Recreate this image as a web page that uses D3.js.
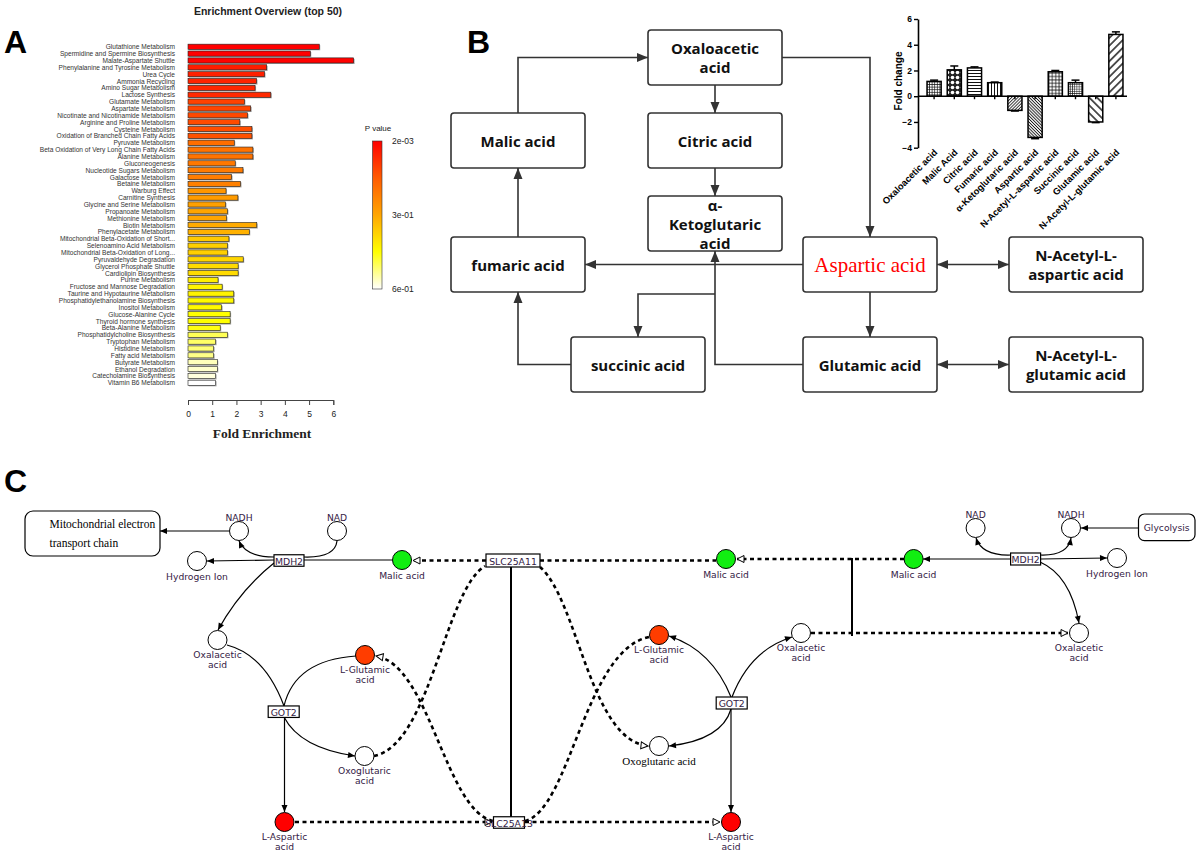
<!DOCTYPE html>
<html>
<head>
<meta charset="utf-8">
<script src="https://cdn.jsdelivr.net/npm/d3@7"></script>
<style>
body { margin: 0; background: #fff; }
svg { display: block; }
</style>
</head>
<body>
<svg id="fig" width="1200" height="855"></svg>
<script>
// ---- panel A data: enrichment overview
const pathways = [
  'Glutathione Metabolism', 'Spermidine and Spermine Biosynthesis', 'Malate-Aspartate Shuttle',
  'Phenylalanine and Tyrosine Metabolism', 'Urea Cycle', 'Ammonia Recycling', 'Amino Sugar Metabolism',
  'Lactose Synthesis', 'Glutamate Metabolism', 'Aspartate Metabolism', 'Nicotinate and Nicotinamide Metabolism',
  'Arginine and Proline Metabolism', 'Cysteine Metabolism', 'Oxidation of Branched Chain Fatty Acids',
  'Pyruvate Metabolism', 'Beta Oxidation of Very Long Chain Fatty Acids', 'Alanine Metabolism',
  'Gluconeogenesis', 'Nucleotide Sugars Metabolism', 'Galactose Metabolism', 'Betaine Metabolism',
  'Warburg Effect', 'Carnitine Synthesis', 'Glycine and Serine Metabolism', 'Propanoate Metabolism',
  'Methionine Metabolism', 'Biotin Metabolism', 'Phenylacetate Metabolism',
  'Mitochondrial Beta-Oxidation of Short...', 'Selenoamino Acid Metabolism',
  'Mitochondrial Beta-Oxidation of Long...', 'Pyruvaldehyde Degradation', 'Glycerol Phosphate Shuttle',
  'Cardiolipin Biosynthesis', 'Purine Metabolism', 'Fructose and Mannose Degradation',
  'Taurine and Hypotaurine Metabolism', 'Phosphatidylethanolamine Biosynthesis', 'Inositol Metabolism',
  'Glucose-Alanine Cycle', 'Thyroid hormone synthesis', 'Beta-Alanine Metabolism',
  'Phosphatidylcholine Biosynthesis', 'Tryptophan Metabolism', 'Histidine Metabolism',
  'Fatty acid Metabolism', 'Butyrate Metabolism', 'Ethanol Degradation', 'Catecholamine Biosynthesis',
  'Vitamin B6 Metabolism'
];
const foldEnrichment = [
  5.42, 5.05, 6.84, 3.25, 3.16, 2.83, 2.77, 3.42, 2.33, 2.59,
  2.46, 2.14, 2.64, 2.64, 1.91, 2.68, 2.68, 1.95, 2.27, 1.80,
  2.17, 1.57, 2.06, 1.55, 1.63, 1.59, 2.84, 2.53, 1.69, 1.63,
  1.63, 2.28, 2.07, 2.07, 1.24, 1.41, 1.89, 1.89, 1.39, 1.74,
  1.74, 1.33, 1.63, 1.14, 1.06, 1.06, 1.21, 1.21, 1.14, 1.14
];
const pValues = [
  0.002, 0.004, 0.005, 0.05, 0.055, 0.06, 0.065, 0.07, 0.11, 0.115,
  0.12, 0.125, 0.13, 0.135, 0.19, 0.20, 0.20, 0.21, 0.215, 0.22,
  0.225, 0.27, 0.28, 0.29, 0.30, 0.30, 0.31, 0.32, 0.36, 0.37,
  0.37, 0.38, 0.39, 0.39, 0.42, 0.43, 0.43, 0.44, 0.44, 0.45,
  0.45, 0.46, 0.50, 0.51, 0.52, 0.53, 0.56, 0.57, 0.58, 0.60
];
const enrichTicks = [0, 1, 2, 3, 4, 5, 6];
const pTicks = [0.002, 0.3, 0.6];
const pTickLabels = ['2e-03', '3e-01', '6e-01'];

// ---- panel B data: fold change inset
const fcNames = ['Oxaloacetic acid', 'Malic Acid', 'Citric acid', 'Fumaric acid', 'α-Ketoglutaric acid',
  'Aspartic acid', 'N-Acetyl-L-aspartic acid', 'Succinic acid', 'Glutamic acid', 'N-Acetyl-L-glutamic acid'];
const foldChange = [1.15, 2.05, 2.2, 1.05, -1.1, -3.2, 1.9, 1.05, -2.0, 4.8];
const foldChangeErr = [0.1, 0.3, 0.08, 0.05, 0.05, 0.1, 0.1, 0.2, 0.05, 0.2];
const fcTicks = [-4, -2, 0, 2, 4, 6];

// ---- panel B flow chart labels
const flowLabels = {
  oaa: ['Oxaloacetic', 'acid'], mal: ['Malic acid'], cit: ['Citric acid'],
  akg: ['α-', 'Ketoglutaric', 'acid'], fum: ['fumaric acid'], asp: ['Aspartic acid'],
  naa: ['N-Acetyl-L-', 'aspartic acid'], suc: ['succinic acid'], glu: ['Glutamic acid'],
  nag: ['N-Acetyl-L-', 'glutamic acid']
};

const svg = d3.select('#fig');
const defs = svg.append('defs');

function marker(id, w, h, fill, stroke) {
  defs.append('marker')
    .attr('id', id)
    .attr('viewBox', `-1 -1 ${w + 2} ${h + 2}`)
    .attr('refX', w).attr('refY', h / 2)
    .attr('markerWidth', w + 2).attr('markerHeight', h + 2)
    .attr('markerUnits', 'userSpaceOnUse')
    .attr('orient', 'auto-start-reverse')
    .append('path')
    .attr('d', `M0,0L${w},${h / 2}L0,${h}Z`)
    .attr('fill', fill)
    .attr('stroke', stroke || 'none')
    .attr('stroke-width', 1);
}
marker('arrB', 11, 9, '#333');
marker('arrC', 7, 6, '#000');
marker('openC', 7, 7, '#fff', '#000');

// panel letters
const letters = svg.append('g')
  .attr('font-family', "'Liberation Sans', Arial, sans-serif")
  .attr('font-weight', 'bold').attr('font-size', 32).attr('fill', '#000');
letters.append('text').attr('x', 4).attr('y', 53).text('A');
letters.append('text').attr('x', 467).attr('y', 53).text('B');
letters.append('text').attr('x', 4).attr('y', 492).text('C');

// ================= PANEL A =================
const gA = svg.append('g').attr('font-family', "'Liberation Sans', Arial, sans-serif");
gA.append('text')
  .attr('x', 268).attr('y', 14.5).attr('text-anchor', 'middle')
  .attr('font-size', 10.5).attr('font-weight', 'bold').attr('fill', '#222')
  .text('Enrichment Overview (top 50)');

const xA = d3.scaleLinear().domain([0, 6]).range([188, 333.3]);
const yA = d3.scaleBand().domain(pathways).range([43.3, 386.2]).paddingInner(0.25).paddingOuter(0.125);
const colorP = d3.scaleLinear()
  .domain([0.002, 0.15, 0.3, 0.45, 0.6])
  .range(['#ff0000', '#ff5a00', '#ffa500', '#ffff00', '#ffffff']);

const rows = pathways.map((name, i) => ({ name, fe: foldEnrichment[i], p: pValues[i] }));

gA.selectAll('rect.shadow').data(rows).join('rect')
  .attr('class', 'shadow')
  .attr('x', xA(0) + 1).attr('y', d => yA(d.name) + 1)
  .attr('width', d => xA(d.fe) - xA(0)).attr('height', yA.bandwidth())
  .attr('fill', '#aaa');

gA.selectAll('rect.bar').data(rows).join('rect')
  .attr('class', 'bar')
  .attr('x', xA(0)).attr('y', d => yA(d.name))
  .attr('width', d => xA(d.fe) - xA(0)).attr('height', yA.bandwidth())
  .attr('fill', d => colorP(d.p))
  .attr('stroke', '#222').attr('stroke-width', 0.6);

gA.selectAll('text.lbl').data(rows).join('text')
  .attr('class', 'lbl')
  .attr('x', 175).attr('y', d => yA(d.name) + yA.bandwidth() / 2)
  .attr('text-anchor', 'end').attr('dominant-baseline', 'central')
  .attr('font-size', 6.6).attr('fill', '#333')
  .text(d => d.name);

const axA = gA.append('g').attr('transform', 'translate(0,400)')
  .call(d3.axisBottom(xA).tickValues(enrichTicks).tickSize(5).tickPadding(6).tickFormat(d3.format('d')));
axA.select('.domain').attr('stroke', '#444');
axA.selectAll('.tick line').attr('stroke', '#444');
axA.selectAll('.tick text').attr('font-size', 8.5).attr('fill', '#222')
  .attr('font-family', "'Liberation Sans', Arial, sans-serif");

gA.append('text')
  .attr('x', 262).attr('y', 438).attr('text-anchor', 'middle')
  .attr('font-family', "'Liberation Serif', 'Times New Roman', serif")
  .attr('font-size', 13.5).attr('font-weight', 'bold').attr('fill', '#222')
  .text('Fold Enrichment');

// colour bar legend
const yLeg = d3.scaleLinear().domain([0.002, 0.6]).range([141, 289]);
const grad = defs.append('linearGradient').attr('id', 'pgrad')
  .attr('x1', 0).attr('y1', 0).attr('x2', 0).attr('y2', 1);
colorP.domain().forEach(v => {
  grad.append('stop')
    .attr('offset', (yLeg(v) - yLeg(0.002)) / (yLeg(0.6) - yLeg(0.002)))
    .attr('stop-color', colorP(v));
});
gA.append('rect')
  .attr('x', 372.5).attr('y', yLeg(0.002)).attr('width', 9.5).attr('height', yLeg(0.6) - yLeg(0.002))
  .attr('fill', 'url(#pgrad)').attr('stroke', '#333').attr('stroke-width', 0.6);
gA.append('text').attr('x', 378).attr('y', 131).attr('text-anchor', 'middle')
  .attr('font-size', 8).attr('fill', '#222').text('P value');
gA.selectAll('text.ptick').data(pTicks).join('text')
  .attr('class', 'ptick')
  .attr('x', 392).attr('y', d => yLeg(d)).attr('dominant-baseline', 'central')
  .attr('font-size', 8.5).attr('fill', '#222')
  .text((d, i) => pTickLabels[i]);

// ================= PANEL B : flow chart =================
const BW = 134, BH = 55;
const boxB = {
  oaa: { x: 648, y: 30 }, mal: { x: 451, y: 113 }, cit: { x: 648, y: 113 }, akg: { x: 648, y: 196 },
  fum: { x: 451, y: 237 }, asp: { x: 803, y: 237 }, naa: { x: 1009, y: 237 },
  suc: { x: 571, y: 337 }, glu: { x: 803, y: 337 }, nag: { x: 1009, y: 337 }
};
const cx = b => boxB[b].x + BW / 2, cy = b => boxB[b].y + BH / 2;
const lf = b => boxB[b].x, rt = b => boxB[b].x + BW;
const tp = b => boxB[b].y, bt = b => boxB[b].y + BH;
const branchY = 294;

const gB = svg.append('g');
const flowEdges = [
  [[cx('mal'), tp('mal')], [cx('mal'), cy('oaa')], [lf('oaa'), cy('oaa')]],
  [[cx('oaa'), bt('oaa')], [cx('oaa'), tp('cit')]],
  [[cx('cit'), bt('cit')], [cx('cit'), tp('akg')]],
  [[rt('oaa'), cy('oaa')], [cx('asp'), cy('oaa')], [cx('asp'), tp('asp')]],
  [[lf('asp'), cy('asp')], [rt('fum'), cy('asp')]],
  [[lf('glu'), cy('glu')], [cx('akg'), cy('glu')], [cx('akg'), bt('akg')]],
  [[cx('akg'), branchY], [cx('suc'), branchY], [cx('suc'), tp('suc')]],
  [[lf('suc'), cy('suc')], [cx('fum'), cy('suc')], [cx('fum'), bt('fum')]],
  [[cx('fum'), tp('fum')], [cx('mal'), bt('mal')]],
  [[cx('asp'), bt('asp')], [cx('glu'), tp('glu')]]
];
const flowDouble = [
  [[rt('asp'), cy('asp')], [lf('naa'), cy('naa')]],
  [[rt('glu'), cy('glu')], [lf('nag'), cy('nag')]]
];
const line = d3.line();
gB.selectAll('path.fe').data(flowEdges).join('path')
  .attr('class', 'fe').attr('d', line)
  .attr('fill', 'none').attr('stroke', '#333').attr('stroke-width', 1.6)
  .attr('marker-end', 'url(#arrB)');
gB.selectAll('path.fd').data(flowDouble).join('path')
  .attr('class', 'fd').attr('d', line)
  .attr('fill', 'none').attr('stroke', '#333').attr('stroke-width', 1.6)
  .attr('marker-end', 'url(#arrB)').attr('marker-start', 'url(#arrB)');

const keysB = Object.keys(boxB);
gB.selectAll('rect.box').data(keysB).join('rect')
  .attr('class', 'box')
  .attr('x', d => boxB[d].x).attr('y', d => boxB[d].y)
  .attr('width', BW).attr('height', BH).attr('rx', 3)
  .attr('fill', '#fff').attr('stroke', '#333').attr('stroke-width', 1.6);

keysB.forEach(k => {
  const lines = flowLabels[k];
  const isAsp = k === 'asp';
  const lh = 19;
  const t = gB.append('text')
    .attr('text-anchor', 'middle')
    .attr('font-family', isAsp ? "'Liberation Serif', 'Times New Roman', serif" : "'Open Sans', 'Noto Sans', sans-serif")
    .attr('font-weight', isAsp ? 'normal' : 'bold')
    .attr('font-size', isAsp ? 21 : 15)
    .attr('fill', isAsp ? '#ff0000' : '#111');
  lines.forEach((s, i) => {
    t.append('tspan')
      .attr('x', cx(k))
      .attr('y', cy(k) + (i - (lines.length - 1) / 2) * lh)
      .attr('dominant-baseline', 'central')
      .text(s);
  });
});

// ================= PANEL B : fold change inset =================
const gF = svg.append('g').attr('font-family', "'Liberation Sans', Arial, sans-serif");
const xF = d3.scaleBand().domain(fcNames).range([924, 1126]).paddingInner(0.3).paddingOuter(0.15);
const yF = d3.scaleLinear().domain([-4, 6]).range([147.7, 19]);

function pattern(id, w, h, bg, draw, rot) {
  const p = defs.append('pattern').attr('id', id)
    .attr('patternUnits', 'userSpaceOnUse').attr('width', w).attr('height', h);
  if (rot) p.attr('patternTransform', `rotate(${rot})`);
  p.append('rect').attr('width', w).attr('height', h).attr('fill', bg);
  draw(p);
}
const hline = (p, w, y, sw) => p.append('line').attr('x1', 0).attr('x2', w).attr('y1', y).attr('y2', y).attr('stroke', '#111').attr('stroke-width', sw);
const vline = (p, h, x, sw) => p.append('line').attr('x1', x).attr('x2', x).attr('y1', 0).attr('y2', h).attr('stroke', '#111').attr('stroke-width', sw);
pattern('fp0', 2.6, 2.6, '#fff', p => { hline(p, 2.6, 1.3, 0.7); vline(p, 2.6, 1.3, 0.7); });
pattern('fp1', 5, 5, '#222', p => p.append('circle').attr('cx', 2.5).attr('cy', 2.5).attr('r', 1.8).attr('fill', '#fff'));
pattern('fp2', 4, 3, '#fff', p => hline(p, 4, 1.5, 1));
pattern('fp3', 3, 4, '#fff', p => vline(p, 4, 1.5, 1));
pattern('fp4', 2.2, 4, '#fff', p => vline(p, 4, 1.1, 0.8), 45);
pattern('fp5', 2.2, 4, '#fff', p => vline(p, 4, 1.1, 0.9), -45);
pattern('fp6', 3.4, 3.4, '#fff', p => { hline(p, 3.4, 1.7, 0.8); vline(p, 3.4, 1.7, 0.8); });
pattern('fp7', 2.2, 2.2, '#fff', p => { hline(p, 2.2, 1.1, 0.55); vline(p, 2.2, 1.1, 0.55); });
pattern('fp8', 5.5, 4, '#fff', p => vline(p, 4, 2.75, 1.4), -45);
pattern('fp9', 5.5, 4, '#fff', p => vline(p, 4, 2.75, 1.4), 45);

const fcRows = fcNames.map((name, i) => ({ name, v: foldChange[i], e: foldChangeErr[i], pat: `url(#fp${i})` }));

// error bars
const errG = gF.selectAll('g.err').data(fcRows).join('g').attr('class', 'err');
errG.append('line')
  .attr('x1', d => xF(d.name) + xF.bandwidth() / 2).attr('x2', d => xF(d.name) + xF.bandwidth() / 2)
  .attr('y1', d => yF(d.v)).attr('y2', d => yF(d.v + Math.sign(d.v) * d.e))
  .attr('stroke', '#000').attr('stroke-width', 1.5);
errG.append('line')
  .attr('x1', d => xF(d.name) + xF.bandwidth() / 2 - 4).attr('x2', d => xF(d.name) + xF.bandwidth() / 2 + 4)
  .attr('y1', d => yF(d.v + Math.sign(d.v) * d.e)).attr('y2', d => yF(d.v + Math.sign(d.v) * d.e))
  .attr('stroke', '#000').attr('stroke-width', 1.5);

gF.selectAll('rect.fc').data(fcRows).join('rect')
  .attr('class', 'fc')
  .attr('x', d => xF(d.name)).attr('width', xF.bandwidth())
  .attr('y', d => yF(Math.max(0, d.v)))
  .attr('height', d => Math.abs(yF(d.v) - yF(0)))
  .attr('fill', d => d.pat).attr('stroke', '#000').attr('stroke-width', 1.5);

const axFY = gF.append('g').attr('transform', 'translate(918,0)')
  .call(d3.axisLeft(yF).tickValues(fcTicks).tickSize(4).tickSizeOuter(0).tickPadding(2));
const axFX = gF.append('g').attr('transform', `translate(0,${yF(0)})`)
  .call(d3.axisBottom(xF).tickSize(3).tickSizeOuter(0).tickFormat(''));
axFX.select('.domain').attr('d', `M918,0H1127`);
[axFY, axFX].forEach(a => {
  a.select('.domain').attr('stroke', '#000').attr('stroke-width', 1.6);
  a.selectAll('.tick line').attr('stroke', '#000').attr('stroke-width', 1.4);
});
axFY.selectAll('.tick text').attr('font-size', 8.5).attr('font-weight', 'bold').attr('fill', '#000')
  .attr('font-family', "'Liberation Sans', Arial, sans-serif");

gF.append('text')
  .attr('transform', 'translate(902,81) rotate(-90)').attr('text-anchor', 'middle')
  .attr('font-size', 10).attr('font-weight', 'bold').text('Fold change');

gF.selectAll('text.fcl').data(fcNames).join('text')
  .attr('class', 'fcl')
  .attr('transform', d => `translate(${xF(d) + xF.bandwidth() / 2 + 4},153) rotate(-45)`)
  .attr('text-anchor', 'end')
  .attr('font-size', 9.3).attr('font-weight', 'bold').attr('fill', '#000')
  .text(d => d);

// ================= PANEL C : malate-aspartate shuttle =================
const gC = svg.append('g').attr('font-family', "'DejaVu Sans', Verdana, sans-serif");
const labelColor = '#352145';
const GREEN = '#11ee11', ORANGE = '#ff3d00', RED = '#ff0000';

const cNodes = [
  { x: 239, y: 531, fill: '#fff', label: ['NADH'], above: true },
  { x: 337, y: 531, fill: '#fff', label: ['NAD'], above: true },
  { x: 197, y: 561, fill: '#fff', label: ['Hydrogen Ion'] },
  { x: 402, y: 560, fill: GREEN, label: ['Malic acid'] },
  { x: 217.5, y: 640, fill: '#fff', label: ['Oxalacetic', 'acid'] },
  { x: 365, y: 655, fill: ORANGE, label: ['L-Glutamic', 'acid'] },
  { x: 364.5, y: 756, fill: '#fff', label: ['Oxoglutaric', 'acid'] },
  { x: 284.5, y: 822, fill: RED, label: ['L-Aspartic', 'acid'] },
  { x: 726, y: 559, fill: GREEN, label: ['Malic acid'] },
  { x: 659, y: 635, fill: ORANGE, label: ['L-Glutamic', 'acid'] },
  { x: 801, y: 633, fill: '#fff', label: ['Oxalacetic', 'acid'] },
  { x: 659, y: 746, fill: '#fff', label: ['Oxoglutaric acid'], serif: true },
  { x: 731, y: 822, fill: RED, label: ['L-Aspartic', 'acid'] },
  { x: 913.6, y: 559, fill: GREEN, label: ['Malic acid'] },
  { x: 975.6, y: 528, fill: '#fff', label: ['NAD'], above: true },
  { x: 1071, y: 528, fill: '#fff', label: ['NADH'], above: true },
  { x: 1117, y: 558, fill: '#fff', label: ['Hydrogen Ion'] },
  { x: 1079, y: 633, fill: '#fff', label: ['Oxalacetic', 'acid'] }
];
const cBoxes = [
  { x: 289, y: 560.5, w: 30, h: 11.5, name: 'MDH2' },
  { x: 513, y: 560.5, w: 54, h: 13, name: 'SLC25A11' },
  { x: 283.7, y: 711.7, w: 31, h: 11.5, name: 'GOT2' },
  { x: 509, y: 822.5, w: 31, h: 11.5, name: 'SLC25A13' },
  { x: 1025.6, y: 559, w: 30, h: 12, name: 'MDH2' },
  { x: 731.7, y: 703, w: 31, h: 12, name: 'GOT2' }
];

// solid reaction edges [path, arrow]
const solidEdges = [
  ['M229,531H160', true],
  ['M274,557Q246,557 239,541', true],
  ['M304,557Q335,558 337,541', false],
  ['M274,560L207,561', true],
  ['M392,560L304,560', false],
  ['M274,563Q240,590 218,630', true],
  ['M227,645Q265,655 284,706', false],
  ['M284,706Q295,660 356,656', false],
  ['M284,717Q300,748 355,756', true],
  ['M284.5,717V812', true],
  ['M1010,559H923', true],
  ['M1011,555Q982,556 976,538', true],
  ['M1040,555Q1068,556 1071,538', true],
  ['M1041,559L1107,558', true],
  ['M1040,562Q1070,575 1079,623', true],
  ['M1138,528H1081', true],
  ['M731,697Q712,650 669,636', true],
  ['M732,697Q750,650 792,637', true],
  ['M731,709Q722,740 669,746', true],
  ['M731,709V812', true]
];
gC.selectAll('path.se').data(solidEdges).join('path')
  .attr('class', 'se').attr('d', d => d[0])
  .attr('fill', 'none').attr('stroke', '#000').attr('stroke-width', 1.2)
  .attr('marker-end', d => d[1] ? 'url(#arrC)' : null);

// transporter bars
gC.selectAll('path.tb').data(['M511,567V822', 'M852,558V636']).join('path')
  .attr('class', 'tb').attr('d', d => d)
  .attr('fill', 'none').attr('stroke', '#000').attr('stroke-width', 2);

// dashed transport edges [path, arrow]
const dashedEdges = [
  ['M486,560.5H413', true],
  ['M540,560.5H716', false],
  ['M904,559H737', true],
  ['M811,633H1068', true],
  ['M295,822H492', true],
  ['M525,822H720', true],
  ['M374,756C430,745 445,590 485,566', false],
  ['M493,821C445,810 430,665 376,656', true],
  ['M540,567C578,600 590,740 648,746', true],
  ['M525,821C570,810 585,650 649,637', false]
];
gC.selectAll('path.de').data(dashedEdges).join('path')
  .attr('class', 'de').attr('d', d => d[0])
  .attr('fill', 'none').attr('stroke', '#000').attr('stroke-width', 2.6)
  .attr('stroke-dasharray', '4,3.5')
  .attr('marker-end', d => d[1] ? 'url(#openC)' : null);

// side boxes
gC.append('rect').attr('x', 25).attr('y', 511).attr('width', 135).attr('height', 45).attr('rx', 8)
  .attr('fill', '#fff').attr('stroke', '#000').attr('stroke-width', 1.2);
const mito = gC.append('text').attr('font-family', "'Liberation Serif', 'Times New Roman', serif")
  .attr('font-size', 11.5).attr('fill', '#000');
mito.append('tspan').attr('x', 49.5).attr('y', 527.5).text('Mitochondrial electron');
mito.append('tspan').attr('x', 49.5).attr('y', 546.5).text('transport chain');

gC.append('rect').attr('x', 1138.5).attr('y', 514).attr('width', 56.5).attr('height', 26.7).attr('rx', 6)
  .attr('fill', '#fff').attr('stroke', '#000').attr('stroke-width', 1.2);
gC.append('text').attr('x', 1166.7).attr('y', 527.5).attr('text-anchor', 'middle')
  .attr('dominant-baseline', 'central').attr('font-size', 9.2).attr('fill', labelColor).text('Glycolysis');

// circles
gC.selectAll('circle.node').data(cNodes).join('circle')
  .attr('class', 'node')
  .attr('cx', d => d.x).attr('cy', d => d.y).attr('r', 9.5)
  .attr('fill', d => d.fill).attr('stroke', '#000').attr('stroke-width', 1);

// enzyme boxes
gC.selectAll('rect.enz').data(cBoxes).join('rect')
  .attr('class', 'enz')
  .attr('x', d => d.x - d.w / 2).attr('y', d => d.y - d.h / 2)
  .attr('width', d => d.w).attr('height', d => d.h)
  .attr('fill', '#fff').attr('stroke', '#000').attr('stroke-width', 1.2);
gC.selectAll('text.enz').data(cBoxes).join('text')
  .attr('class', 'enz')
  .attr('x', d => d.x).attr('y', d => d.y + 0.5)
  .attr('text-anchor', 'middle').attr('dominant-baseline', 'central')
  .attr('font-size', 9.3).attr('fill', labelColor)
  .text(d => d.name);

// node labels (two-line labels sit tight under their circle)
cNodes.forEach(n => {
  const t = gC.append('text').attr('text-anchor', 'middle').attr('dominant-baseline', 'central');
  if (n.serif) {
    t.attr('font-family', "'Liberation Serif', 'Times New Roman', serif").attr('font-size', 11).attr('fill', '#000');
  } else {
    t.attr('font-size', 9.2).attr('fill', labelColor);
  }
  n.label.forEach((s, i) => {
    const dy = n.above ? -14 : (n.label.length > 1 ? 14 + i * 9.5 : 14.5);
    t.append('tspan').attr('x', n.x).attr('y', n.y + dy).text(s);
  });
});
</script>
</body>
</html>
